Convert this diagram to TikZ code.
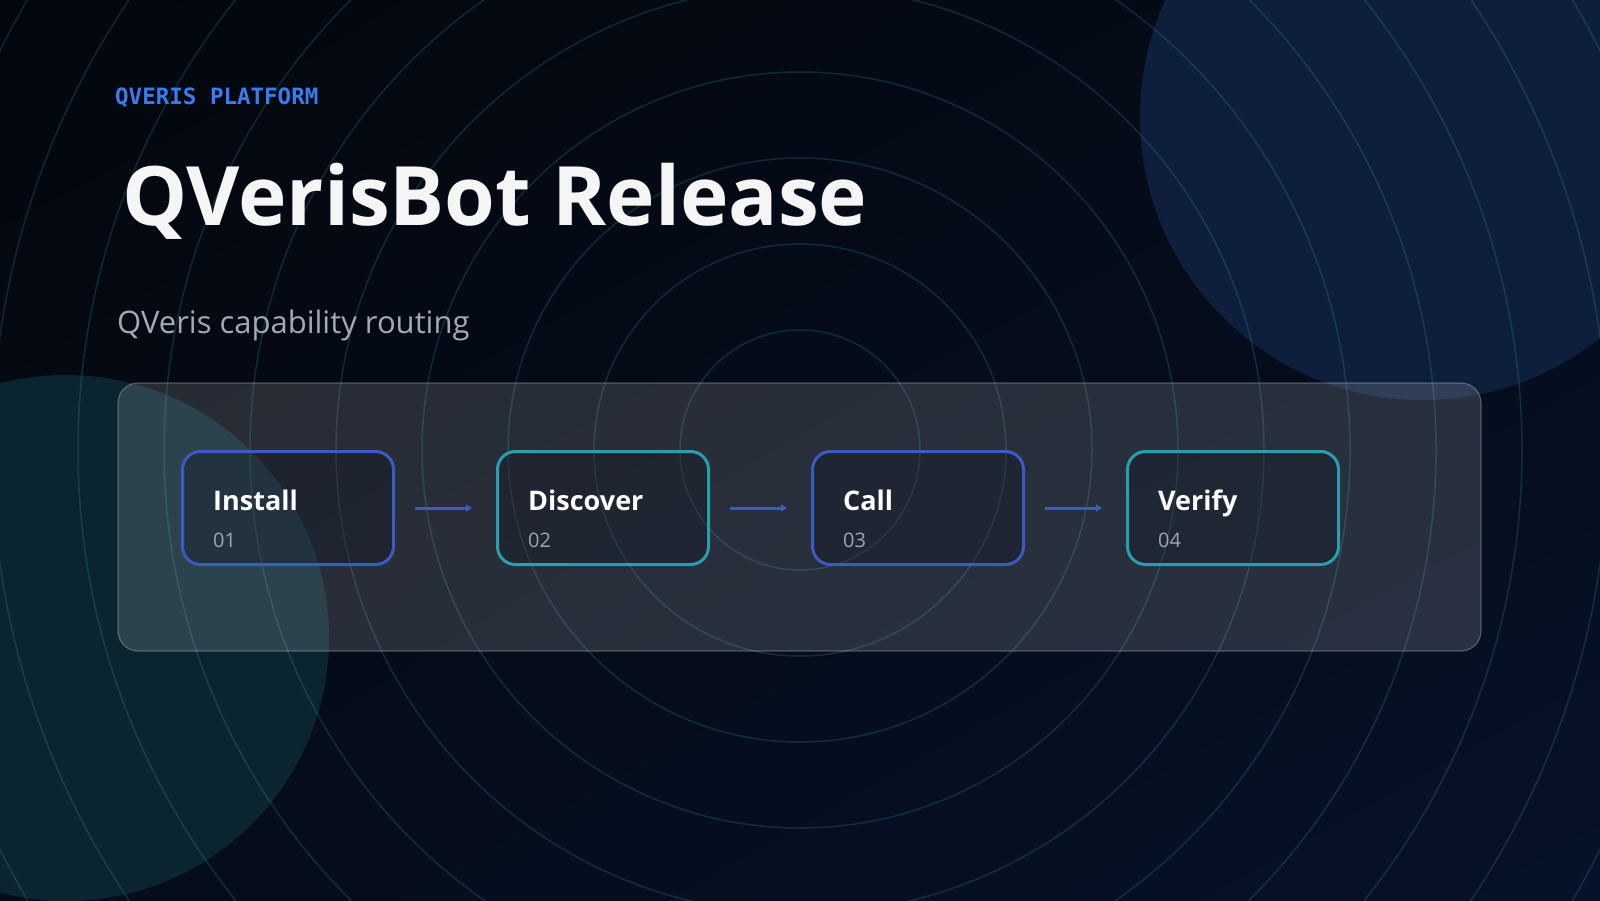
\documentclass[tikz,border=0pt]{standalone}
\usepackage{fontspec}
\setmainfont{Open Sans}
\setmonofont{DejaVu Sans Mono}
\usetikzlibrary{arrows.meta,positioning,calc,shadings}

\definecolor{bgdark}{HTML}{03060C}
\definecolor{bgmid}{HTML}{050C19}
\definecolor{bgnavy}{HTML}{061229}
\definecolor{ringteal}{HTML}{2FB3C6}
\definecolor{blobblue}{HTML}{0E1F3D}
\definecolor{blobteal}{HTML}{0A2530}
\definecolor{stepblue}{HTML}{3A5CC2}
\definecolor{stepteal}{HTML}{2A9DAE}
\definecolor{kicker}{HTML}{3B7BF0}
\definecolor{subgray}{HTML}{A3AAB5}
\definecolor{numgray}{HTML}{A0A6B0}
\definecolor{cardfill}{HTML}{0B1120}

\tikzset{
  ring/.style={draw=ringteal, draw opacity=0.2, line width=1.5pt},
  stepcard/.style={draw=#1, line width=3pt, rounded corners=18pt,
    fill=cardfill, fill opacity=0.3, minimum width=211pt, minimum height=113pt, inner sep=0pt},
  steptitle/.style={font=\fontsize{27}{32}\selectfont\bfseries, text=white, inner sep=0pt},
  stepnum/.style={font=\fontsize{20}{24}\selectfont, text=numgray, inner sep=0pt},
  flowarrow/.style={draw=stepblue, line width=3pt, -{Triangle[length=6pt,width=7pt]},
    shorten <=20pt, shorten >=24pt}
}

\begin{document}
\begin{tikzpicture}[x=1pt, y=-1pt]
  \useasboundingbox (0,0) rectangle (1600,900);
  % background
  \shade[upper left=bgdark, upper right=bgmid, lower left=bgmid, lower right=bgnavy]
    (0,0) rectangle (1600,900);

  \begin{scope}
    \clip (0,0) rectangle (1600,900);
    % soft blobs
    \fill[blobblue] (1423,117) circle[radius=283];
    \fill[blobteal] (66,638) circle[radius=263];
    % rings round the middle
    \foreach \r in {0,...,11} {
      \draw[ring] (800,450) circle[radius=120+86*\r];
    }
  \end{scope}

  % header
  \node[font=\fontsize{22.5}{26}\selectfont\ttfamily\bfseries, text=kicker, anchor=base west, inner sep=0pt]
    (kicker) at (115,104) {QVERIS PLATFORM};
  \node[font=\fontsize{82}{92}\selectfont\bfseries, text=white!96!black, anchor=base west, inner sep=0pt]
    (title) at (122,225) {QVerisBot Release};
  \node[font=\fontsize{31}{36}\selectfont, text=subgray, anchor=base west, inner sep=0pt]
    (subtitle) at (117,333) {QVeris capability routing};

  % panel
  \draw[rounded corners=20pt, fill=white, fill opacity=0.14, draw=white, draw opacity=0.25, line width=1.2pt]
    (118,383) rectangle (1481,651);

  % steps
  \foreach \name/\label/\num/\col [count=\i from 0] in
      {install/Install/01/stepblue, discover/Discover/02/stepteal,
       call/Call/03/stepblue, verify/Verify/04/stepteal} {
    \node[stepcard=\col] (\name) at (288+315*\i, 508) {};
    \node[steptitle, anchor=base west] (\name-title) at ($(\name.north west)+(32,60)$) {\label};
    \node[stepnum, anchor=base west] (\name-num) at ($(\name.north west)+(32,97)$) {\num};
  }

  \foreach \a/\b in {install/discover, discover/call, call/verify}
    \draw[flowarrow] (\a) -- (\b);
\end{tikzpicture}
\end{document}
